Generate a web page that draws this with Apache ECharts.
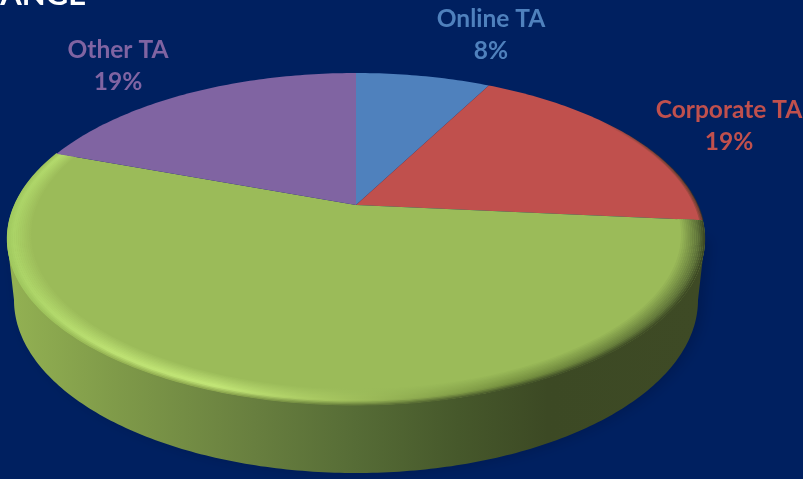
<!DOCTYPE html>
<html>
<head>
<meta charset="utf-8">
<style>
    html, body { margin: 0; padding: 0; background: #002060; }
    #chart1 { width: 803px; height: 479px; }
</style>
</head>
<body>
<div id="chart1"></div>
<script src="https://cdn.jsdelivr.net/npm/echarts@6/dist/echarts.min.js"></script>
<script>
    // 数据
    const categories = ['Online TA', 'Corporate TA', 'Hotel Direct', 'Other TA'];
    const shares = [7.6, 18.9, 54.1, 19.4];
    const colors = ['#4f81bd', '#c0504d', '#9bbb59', '#8064a2'];

    // 版式：饼面椭圆、透视、厚度
    const cx = 356, cy = 239, rx = 349, ry = 166, persp = -0.205;
    const wallCy = 300, wallRx = 342, wallRy = 173;
    const labelAnchor = { 'Online TA': [491, 35], 'Corporate TA': [729, 126], 'Other TA': [118, 66] };

    const total = shares.reduce((a, b) => a + b, 0);
    const starts = shares.map((v, i) => shares.slice(0, i).reduce((a, b) => a + b, 0));
    const toAngle = v => v / total * Math.PI * 2;

    // 圆面上的点投影到屏幕（带透视，圆心不在椭圆中心）
    function project(theta, f) {
        const X = f * Math.sin(theta), Y = -f * Math.cos(theta);
        const d = 1 + persp * Y;
        return [cx + rx * X * Math.sqrt(1 - persp * persp) / d, cy + ry * (Y + persp) / d];
    }
    function arc(a0, a1, f) {
        const n = Math.max(2, Math.ceil((a1 - a0) * 60));
        const pts = [];
        for (let i = 0; i <= n; i++) pts.push(project(a0 + (a1 - a0) * i / n, f));
        return pts;
    }

    // 前缘高光
    const rimX = [0, 0.15, 0.30, 0.45, 0.72, 1];
    const rimOuter = ['#a2cb60', '#98b655', '#8faa50', '#6f8840', '#45552a', '#3e4a25'];
    const rimPeak = ['#aad366', '#bfe374', '#c4e878', '#a9c962', '#75903f', '#5c7038'];
    const rimCount = 14;
    const rimDepth = 0.072;

    function rimColor(t) {
        return new echarts.graphic.LinearGradient(cx - rx, 0, cx + rx, 0, rimX.map((x, j) => {
            let c;
            if (t < 0.25) c = echarts.color.lerp(t / 0.25, [rimOuter[j], rimPeak[j]]);
            else c = echarts.color.lerp((t - 0.25) / 0.75, [rimPeak[j], colors[2]]);
            return { offset: x, color: c };
        }), true);
    }

    function renderWall(params, api) {
        const pts = [[cx - rx, cy]];
        for (let i = 0; i <= 200; i++) {
            const a = Math.PI - Math.PI * i / 200;
            pts.push([cx + wallRx * Math.cos(a), wallCy + wallRy * Math.sin(a)]);
        }
        pts.push([cx + rx, cy]);
        return {
            type: 'polygon',
            shape: { points: pts },
            style: {
                fill: new echarts.graphic.LinearGradient(cx - wallRx, 0, cx + wallRx, 0, [
                    { offset: 0, color: '#92b052' },
                    { offset: 0.15, color: '#7f9a49' },
                    { offset: 0.35, color: '#687f3f' },
                    { offset: 0.5, color: '#566c36' },
                    { offset: 0.65, color: '#46582b' },
                    { offset: 0.78, color: '#3c4924' },
                    { offset: 1, color: '#3e4a25' }
                ], true),
                shadowBlur: 14,
                shadowColor: 'rgba(0,0,20,0.2)',
                shadowOffsetX: 5
            }
        };
    }

    function renderSlice(params, api) {
        const i = params.dataIndex;
        const a0 = toAngle(api.value(1)), a1 = a0 + toAngle(api.value(0));
        const children = [{
            type: 'polygon',
            shape: { points: [project(0, 0)].concat(arc(a0, a1, 1)) },
            style: { fill: colors[i] }
        }];
        if (a1 - a0 > Math.PI) {
            // 只有绿色扇区露出前缘
            for (let k = 0; k < rimCount; k++) {
                const t = k / (rimCount - 1);
                children.push({
                    type: 'polyline',
                    shape: { points: arc(a0, a1, 1 - rimDepth * (k + 0.5) / rimCount) },
                    style: { fill: null, stroke: rimColor(t), lineWidth: 2.2 }
                });
            }
        } else if (a1 > Math.PI / 4) {
            // 红色扇区右端边缘略暗
            for (let k = 0; k < 3; k++) {
                children.push({
                    type: 'polyline',
                    shape: { points: arc(a0, a1, 1 - 0.004 * k) },
                    style: {
                        fill: null,
                        lineWidth: 1.5,
                        stroke: new echarts.graphic.LinearGradient(600, 0, 705, 0, [
                            { offset: 0, color: 'rgba(60,50,30,0)' },
                            { offset: 1, color: 'rgba(60,50,30,' + (0.7 - 0.2 * k) + ')' }
                        ], true)
                    }
                });
            }
        }
        return { type: 'group', children };
    }

    function renderLabel(params, api) {
        const name = categories[params.dataIndex];
        const p = labelAnchor[name];
        if (!p) return null;
        return {
            type: 'text',
            x: p[0], y: p[1],
            style: {
                text: name + '\n' + Math.round(api.value(0)) + '%',
                fill: colors[params.dataIndex],
                font: 'bold 24.5px Lato, sans-serif',
                lineHeight: 32,
                align: 'center',
                verticalAlign: 'middle'
            }
        };
    }

    const sliceData = shares.map((v, i) => [v, starts[i]]);
    const chart1 = echarts.init(document.getElementById('chart1'));
    const option = {
        animation: false,
        backgroundColor: '#002060',
        graphic: [{
            type: 'text', x: 86, y: -21,
            style: { text: 'RANGE', fill: '#fff', font: 'bold 31px Lato, sans-serif', align: 'right' }
        }],
        series: [
            { type: 'custom', coordinateSystem: 'none', z: 1, data: [shares[2]], renderItem: renderWall },
            { type: 'custom', coordinateSystem: 'none', z: 2, data: sliceData, renderItem: renderSlice },
            { type: 'custom', coordinateSystem: 'none', z: 3, data: sliceData, renderItem: renderLabel }
        ]
    };
    chart1.setOption(option);
</script>
</body>
</html>
